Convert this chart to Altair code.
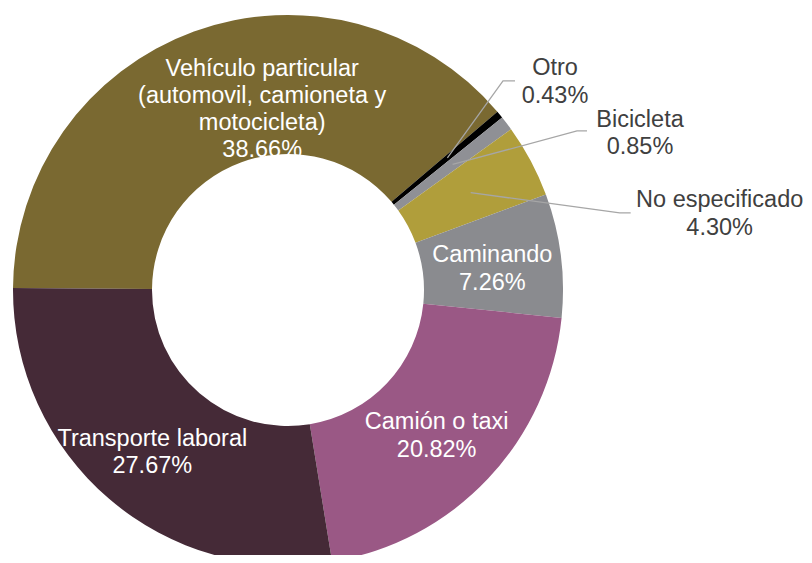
import altair as alt
import pandas as pd
import numpy as np

# ---- data ----
categories = ["Vehículo particular", "Otro", "Bicicleta", "No especificado",
              "Caminando", "Camión o taxi", "Transporte laboral"]
label_names = ["Vehículo particular\n(automovil, camioneta y\nmotocicleta)", "Otro", "Bicicleta",
               "No especificado", "Caminando", "Camión o taxi", "Transporte laboral"]
values = [38.66, 0.43, 0.85, 4.30, 7.26, 20.82, 27.67]
value_labels = ["38.66%", "0.43%", "0.85%", "4.30%", "7.26%", "20.82%", "27.67%"]

# ---- style / layout ----
colors = ["#7A6931", "#000000", "#8F9095", "#B09E3B", "#8A8B8F", "#9A5885", "#452A37"]
inside = [True, False, False, False, True, True, True]
start_deg = 270.4
W, H = 796, 547
CX, CY = 280, 282
R_OUT, R_IN = 275, 136
R_LABEL = 207
FS, LH = 23.5, 27.3
# label-block centre offsets (px) from the polar point at R_LABEL on each slice's mid angle
label_dx = [45, 107.6, 187.4, 249.0, -1, -2, -1]
label_dy = [14, -76, -31, 21.3, 5, 4, 5]
# leader elbow/end offsets relative to label centre (outside labels only)
leader_pts = {
    "Otro": [(-52, -1), (-40, -1)],
    "Bicicleta": [(-63, -2.5), (-53, -2.5)],
    "No especificado": [(-100, -1), (-89, -1)],
}

total = sum(values)
fr = np.array(values) / total
cum = np.cumsum(fr)
mid_deg = start_deg + 360 * (cum - fr / 2)
mid = np.deg2rad(mid_deg)
px = CX + R_LABEL * np.sin(mid)
py = CY - R_LABEL * np.cos(mid)

df = pd.DataFrame({
    "cat": categories,
    "value": values,
    "order": list(range(len(values))),
    "color": colors,
})

texts_full = [f"{n}\n{v}" for n, v in zip(label_names, value_labels)]
n_lines = np.array([t.count("\n") + 1 for t in texts_full])
cx_lab = px + np.array(label_dx)
cy_lab = py + np.array(label_dy)
lab = pd.DataFrame({
    "cat": categories,
    "text": texts_full,
    "x": cx_lab,
    # Vega puts the first line at y: shift so the block is centred
    "y": cy_lab - (n_lines - 1) / 2 * LH,
    "tcolor": ["#FFFFFF" if i else "#404040" for i in inside],
})

rows = []
for i, c in enumerate(categories):
    if c in leader_pts:
        lx, ly = cx_lab[i], cy_lab[i]
        rows.append({"cat": c, "i": 0, "x": px[i], "y": py[i]})
        for k, (ox, oy) in enumerate(leader_pts[c]):
            rows.append({"cat": c, "i": k + 1, "x": lx + ox, "y": ly + oy})
lead = pd.DataFrame(rows)

s0 = np.deg2rad(start_deg)
arcs = alt.Chart(df).mark_arc(innerRadius=R_IN, outerRadius=R_OUT).encode(
    theta=alt.Theta("value:Q", stack=True, scale=alt.Scale(range=[s0, s0 + 2 * np.pi])),
    color=alt.Color("color:N", scale=None),
    order=alt.Order("order:Q"),
    x=alt.value(CX),
    y=alt.value(CY),
)

leaders = alt.Chart(lead).mark_line(color="#A6A6A6", strokeWidth=1.3).encode(
    x=alt.X("x:Q", scale=None),
    y=alt.Y("y:Q", scale=None),
    detail="cat:N",
    order="i:Q",
)

texts = alt.Chart(lab).mark_text(
    font="Liberation Sans", fontSize=FS, lineBreak="\n", lineHeight=LH,
    align="center", baseline="middle",
).encode(
    x=alt.X("x:Q", scale=None),
    y=alt.Y("y:Q", scale=None),
    text="text:N",
    color=alt.Color("tcolor:N", scale=None),
)

chart = alt.layer(arcs, leaders, texts).properties(
    width=W, height=H,
    autosize=alt.AutoSizeParams(type="none"),
    padding=0,
).configure_view(stroke=None)

chart.save("out.html", embed_options={"renderer": "svg", "actions": False})
